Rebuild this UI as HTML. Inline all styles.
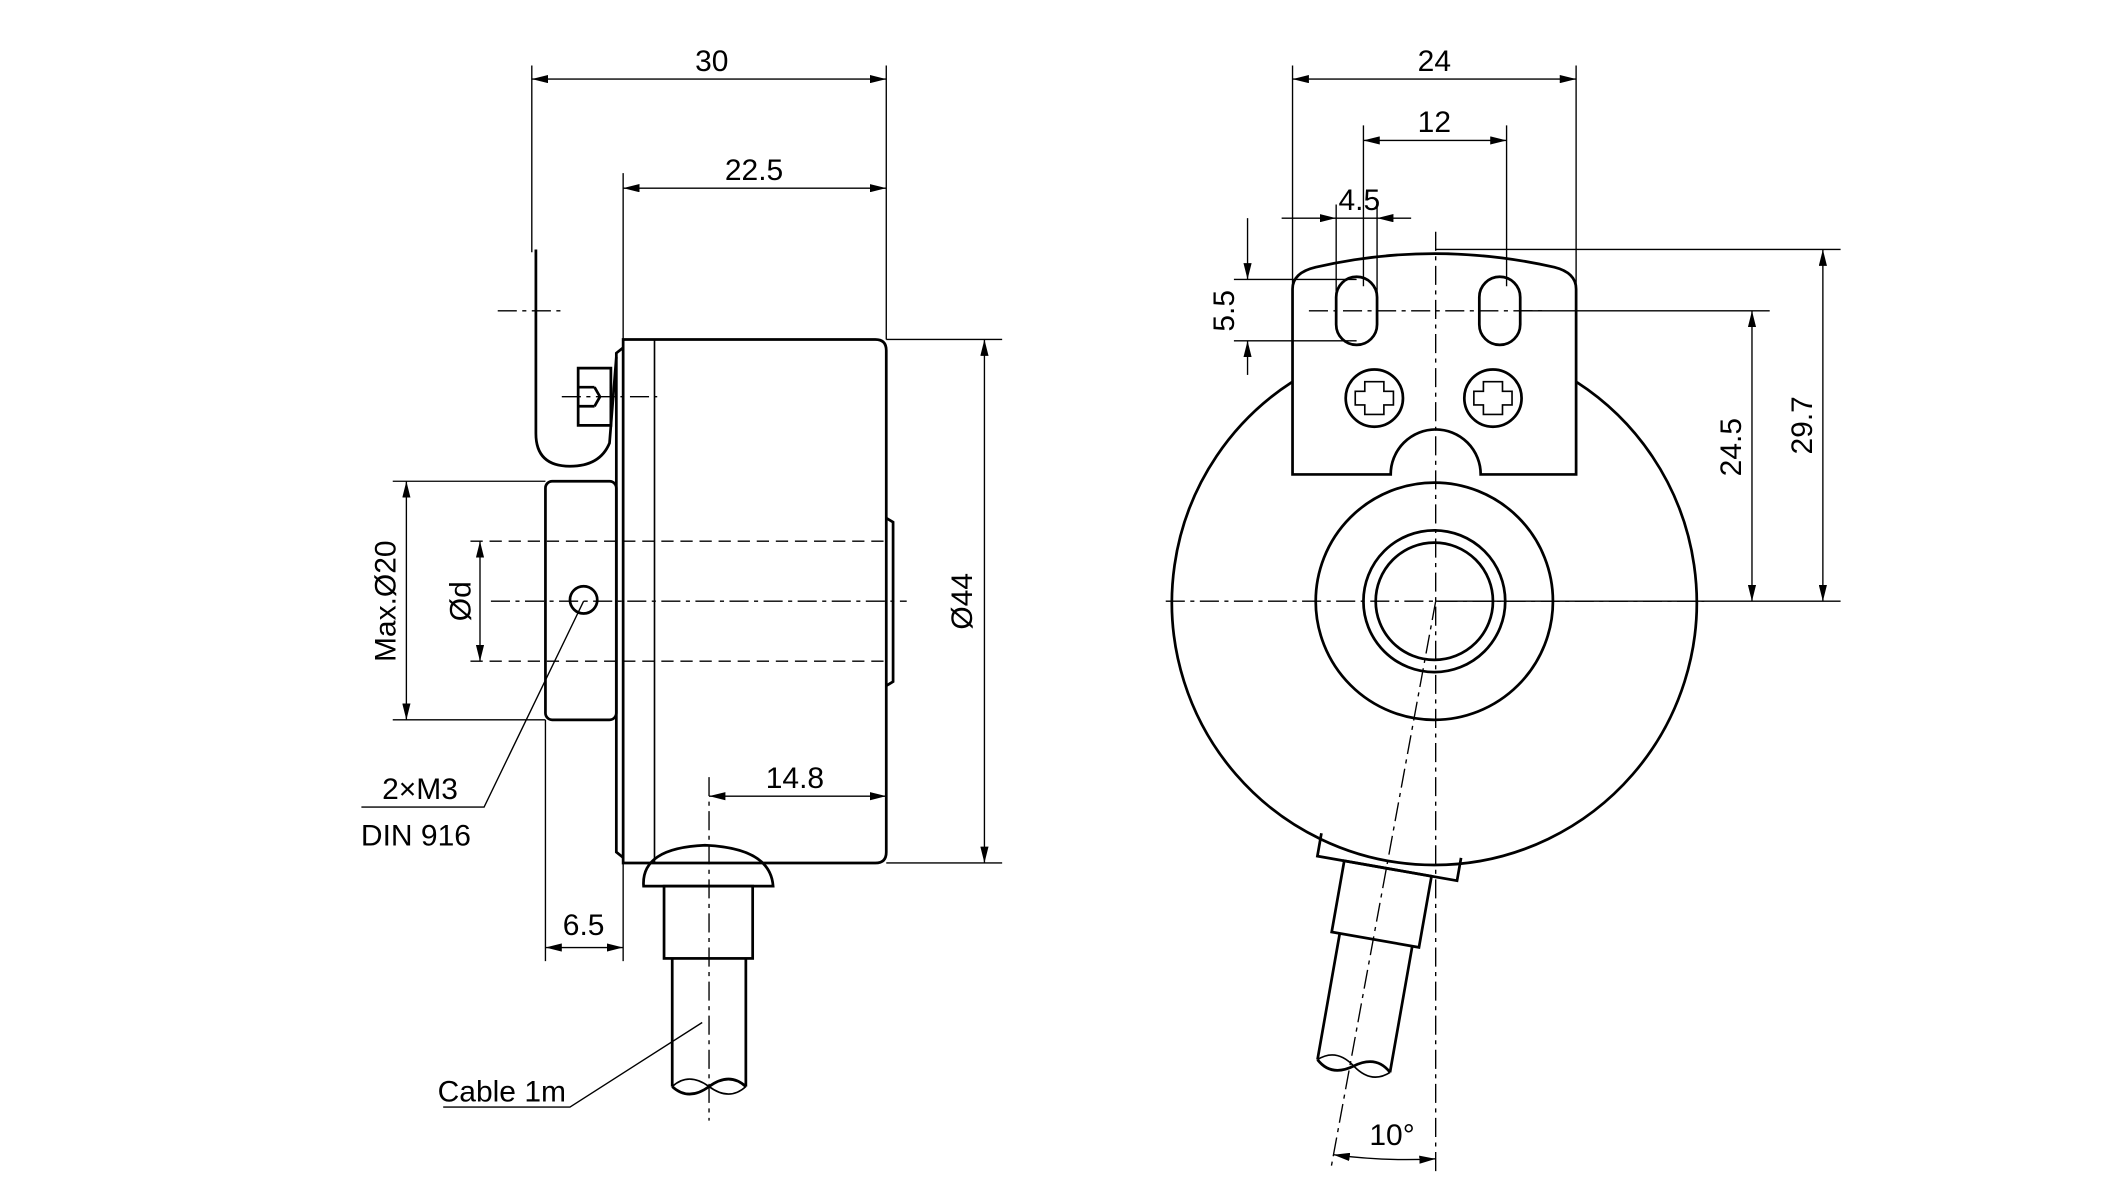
<!DOCTYPE html>
<html><head><meta charset="utf-8"><style>
html,body{margin:0;padding:0;background:#fff;}
svg{display:block;}
text{font-family:"Liberation Sans",sans-serif;font-size:22px;fill:#000;}
</style></head><body>
<svg width="2127" height="1182" viewBox="0 0 1560 867" xmlns="http://www.w3.org/2000/svg">
<defs>
<marker id="a" viewBox="0 0 12 6" refX="12" refY="3" markerWidth="12" markerHeight="6" orient="auto-start-reverse" markerUnits="userSpaceOnUse"><path d="M0,0 L12,3 L0,6 z" fill="#000"/></marker>
</defs>
<g fill="none" stroke="#000" stroke-width="1">
<!-- LEFT VIEW -->
<!-- extension lines -->
<line x1="390" y1="48" x2="390" y2="185"/>
<line x1="650" y1="48" x2="650" y2="249"/>
<line x1="457" y1="127" x2="457" y2="249"/>
<line x1="650" y1="249" x2="735" y2="249"/>
<line x1="650" y1="633" x2="735" y2="633"/>
<line x1="288" y1="353" x2="400" y2="353"/>
<line x1="288" y1="528" x2="400" y2="528"/>
<line x1="400" y1="528" x2="400" y2="705"/>
<line x1="457" y1="633" x2="457" y2="705"/>
<!-- dims -->
<line x1="390" y1="58" x2="650" y2="58" marker-start="url(#a)" marker-end="url(#a)"/>
<line x1="457" y1="138" x2="650" y2="138" marker-start="url(#a)" marker-end="url(#a)"/>
<line x1="722" y1="249" x2="722" y2="633" marker-start="url(#a)" marker-end="url(#a)"/>
<line x1="298" y1="353" x2="298" y2="528" marker-start="url(#a)" marker-end="url(#a)"/>
<line x1="352" y1="397" x2="352" y2="485" marker-start="url(#a)" marker-end="url(#a)"/>
<line x1="520" y1="584" x2="650" y2="584" marker-start="url(#a)" marker-end="url(#a)"/>
<line x1="400" y1="695" x2="457" y2="695" marker-start="url(#a)" marker-end="url(#a)"/>
<!-- center/dashed -->
<line x1="360" y1="441" x2="665" y2="441" stroke-dasharray="14,4,3,4"/>
<line x1="520" y1="570" x2="520" y2="822" stroke-dasharray="14,4,3,4"/>
<line x1="365" y1="228" x2="412" y2="228" stroke-dasharray="14,4,3,4"/>
<line x1="412" y1="291" x2="482" y2="291" stroke-dasharray="14,4,3,4"/>
<line x1="345" y1="397" x2="650" y2="397" stroke-dasharray="9,5"/>
<line x1="345" y1="485" x2="650" y2="485" stroke-dasharray="9,5"/>
<!-- leaders -->
<polyline points="428,441 355,592 265,592"/>
<polyline points="515,750 418,812 325,812"/>
</g>
<g fill="none" stroke="#000" stroke-width="2">
<!-- body -->
<path d="M457,249 L642,249 Q650,249 650,257 L650,625 Q650,633 642,633 L457,633 Z"/>
<line x1="480" y1="249" x2="480" y2="633" stroke-width="1.2"/>
<path d="M457,255 L452,259 L452,625 L457,629"/>
<path d="M650,380 L655,383 L655,500 L650,503"/>
<rect x="400" y="353" width="52" height="175" rx="5"/>
<circle cx="428" cy="440" r="10"/>
<!-- spring bracket -->
<path d="M393,183 L393,318 Q393,342 418,342 Q440,342 447,325 L452,262"/>
<path d="M424,270 L448,270 L448,312 L424,312 Z M424,284 L436,284 M424,298 L436,298 M436,284 L440,291 L436,298"/>
<!-- cable gland -->
<path d="M472,650 Q470,622 517,620 Q565,622 567,650 Z"/>
<rect x="487" y="650" width="65" height="53"/>
<path d="M493,703 L493,797 M547,703 L547,797"/>
<path d="M493,797 Q505,808 520,797 Q535,786 547,797"/>
<path d="M493,797 Q505,786 520,797 Q535,808 547,797" stroke-width="1.2"/>
<!-- RIGHT VIEW -->
<path d="M948,280 A192.5,192.5 0 1 0 1156,280"/>
<circle cx="1052" cy="441" r="87"/>
<circle cx="1052" cy="441" r="52"/>
<circle cx="1052" cy="441" r="43"/>
<path d="M948,348 L948,212 Q948,200 965,196 Q1052,176 1140,196 Q1156,200 1156,212 L1156,348 L1086,348 A33,33 0 0 0 1020,348 Z"/>
<rect x="980" y="203" width="30" height="50" rx="15"/>
<rect x="1085" y="203" width="30" height="50" rx="15"/>
<circle cx="1008" cy="292" r="21"/>
<circle cx="1095" cy="292" r="21"/>
<path d="M1001,287 L1001,280 L1015,280 L1015,287 L1022,287 L1022,297 L1015,297 L1015,304 L1001,304 L1001,297 L994,297 L994,287 Z" stroke-width="1.2"/>
<path d="M1088,287 L1088,280 L1102,280 L1102,287 L1109,287 L1109,297 L1102,297 L1102,304 L1088,304 L1088,297 L1081,297 L1081,287 Z" stroke-width="1.2"/>
<!-- rotated gland -->
<g transform="rotate(10 1052 441)">
<path d="M1000,623 L1000,640 L1104,640 L1104,623"/>
<rect x="1020" y="640" width="65" height="53"/>
<path d="M1026,693 L1026,787 M1080,693 L1080,787"/>
<path d="M1026,787 Q1038,798 1053,787 Q1068,776 1080,787"/>
<path d="M1026,787 Q1038,776 1053,787 Q1068,798 1080,787" stroke-width="1.2"/>
</g>
</g>
<g fill="none" stroke="#000" stroke-width="1">
<line x1="948" y1="48" x2="948" y2="210"/>
<line x1="1156" y1="48" x2="1156" y2="210"/>
<line x1="1000" y1="92" x2="1000" y2="210"/>
<line x1="1105" y1="92" x2="1105" y2="210"/>
<line x1="980" y1="150" x2="980" y2="215"/>
<line x1="1010" y1="150" x2="1010" y2="215"/>
<line x1="905" y1="205" x2="995" y2="205"/>
<line x1="905" y1="250" x2="995" y2="250"/>
<line x1="1053" y1="183" x2="1350" y2="183"/>
<line x1="1053" y1="441" x2="1350" y2="441"/>
<line x1="1115" y1="228" x2="1298" y2="228"/>
<line x1="948" y1="58" x2="1156" y2="58" marker-start="url(#a)" marker-end="url(#a)"/>
<line x1="1000" y1="103" x2="1105" y2="103" marker-start="url(#a)" marker-end="url(#a)"/>
<line x1="940" y1="160" x2="980" y2="160" marker-end="url(#a)"/>
<line x1="1035" y1="160" x2="1010" y2="160" marker-end="url(#a)"/>
<line x1="980" y1="160" x2="1010" y2="160"/>
<line x1="915" y1="160" x2="915" y2="205" marker-end="url(#a)"/>
<line x1="915" y1="275" x2="915" y2="250" marker-end="url(#a)"/>
<line x1="1285" y1="228" x2="1285" y2="441" marker-start="url(#a)" marker-end="url(#a)"/>
<line x1="1337" y1="183" x2="1337" y2="441" marker-start="url(#a)" marker-end="url(#a)"/>
<line x1="1053" y1="170" x2="1053" y2="860" stroke-dasharray="14,4,3,4"/>
<line x1="855" y1="441" x2="1250" y2="441" stroke-dasharray="14,4,3,4"/>
<line x1="1053" y1="441" x2="976" y2="858" stroke-dasharray="14,4,3,4"/>
<line x1="960" y1="228" x2="1135" y2="228" stroke-dasharray="14,4,3,4"/>
<path d="M978,847 Q1015,852 1053,850" marker-start="url(#a)" marker-end="url(#a)"/>
</g>
<g>
<text x="522" y="52" text-anchor="middle">30</text>
<text x="553" y="132" text-anchor="middle">22.5</text>
<text x="583" y="578" text-anchor="middle">14.8</text>
<text x="428" y="686" text-anchor="middle">6.5</text>
<text x="308" y="586" text-anchor="middle">2×M3</text>
<text x="305" y="620" text-anchor="middle">DIN 916</text>
<text x="368" y="808" text-anchor="middle">Cable 1m</text>
<text transform="translate(713,441) rotate(-90)" text-anchor="middle">Ø44</text>
<text transform="translate(290,441) rotate(-90)" text-anchor="middle">Max.Ø20</text>
<text transform="translate(345,441) rotate(-90)" text-anchor="middle">Ød</text>
<text x="1052" y="52" text-anchor="middle">24</text>
<text x="1052" y="97" text-anchor="middle">12</text>
<text x="997" y="154" text-anchor="middle">4.5</text>
<text transform="translate(905,228) rotate(-90)" text-anchor="middle">5.5</text>
<text transform="translate(1277,328) rotate(-90)" text-anchor="middle">24.5</text>
<text transform="translate(1329,312) rotate(-90)" text-anchor="middle">29.7</text>
<text x="1021" y="840" text-anchor="middle">10°</text>
</g>
</svg>
</body></html>
